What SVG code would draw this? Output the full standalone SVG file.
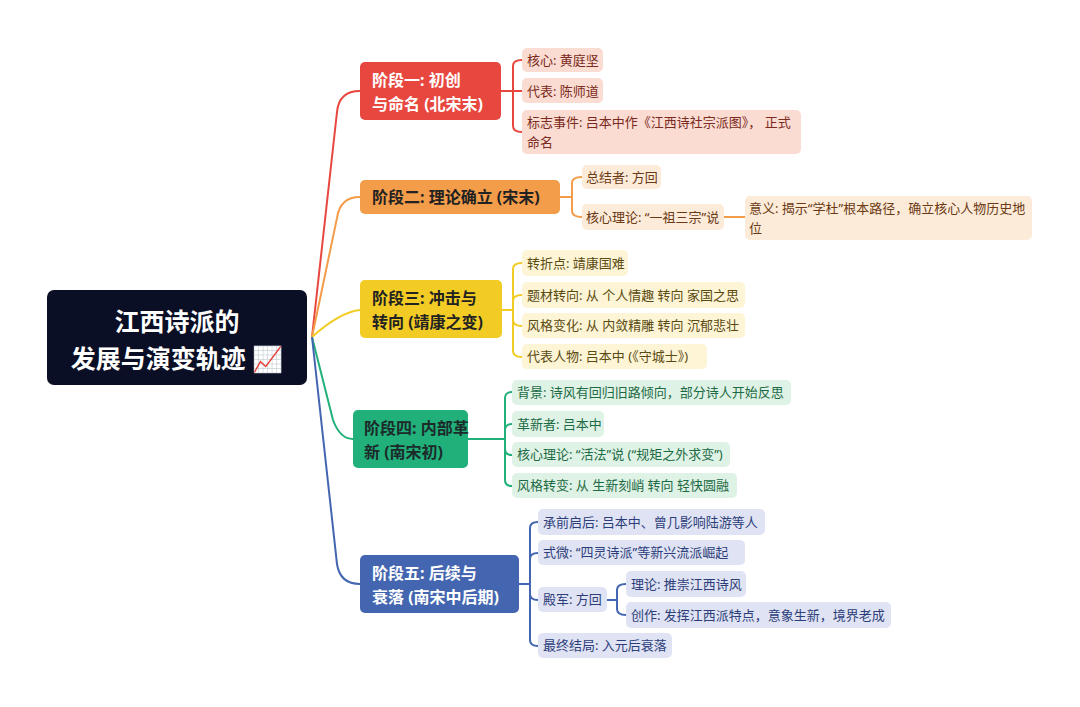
<svg xmlns="http://www.w3.org/2000/svg" width="1080" height="707" viewBox="0 0 1080 707">
<style>
text{font-family:"Noto Sans","Noto Sans CJK SC",sans-serif}
.br{font-size:16px;font-weight:bold}
.lf{font-size:13px}
.c{fill:none;stroke-width:2}
</style>
<rect width="1080" height="707" fill="#fff"/>
<g id="connectors">
<path class="c" stroke="#e8473f" d="M312,337 L337,112 Q339,91 360,91"/>
<path class="c" stroke="#f39c4a" d="M312,337 L337,218 Q340,197 360,197"/>
<path class="c" stroke="#f2cc24" d="M312,337 Q340,312 360,310"/>
<path class="c" stroke="#21b07a" d="M312,337 L333,420 Q340,439 353,439"/>
<path class="c" stroke="#4466b0" d="M312,337 L337,564 Q340,584 360,584"/>
<g stroke="#e8473f" class="c"><path d="M501,91 H513 V66 Q513,60 522,60"/><path d="M501,91 H522"/><path d="M501,91 H513 V126 Q513,132 522,132"/></g>
<g stroke="#f39c4a" class="c"><path d="M560,197 H572 V183 Q572,177 582,177"/><path d="M560,197 H572 V211 Q572,217 582,217"/><path d="M724,217 H745"/></g>
<g stroke="#f2cc24" class="c"><path d="M502,310 H513 V269 Q513,263 522,263"/><path d="M502,310 H513 V301 Q513,295 522,295"/><path d="M502,310 H513 V320 Q513,326 522,326"/><path d="M502,310 H513 V351 Q513,357 522,357"/></g>
<g stroke="#21b07a" class="c"><path d="M468,439 H505 V398 Q505,392 512,392"/><path d="M468,439 H505 V430 Q505,424 512,424"/><path d="M468,439 H505 V449 Q505,455 512,455"/><path d="M468,439 H505 V480 Q505,486 512,486"/></g>
<g stroke="#4466b0" class="c"><path d="M519,584 H530 V528 Q530,522 538,522"/><path d="M519,584 H530 V559 Q530,553 538,553"/><path d="M519,584 H530 V594 Q530,600 538,600"/><path d="M519,584 H530 V640 Q530,646 538,646"/><path d="M607,600 H617 V590 Q617,584 626,584"/><path d="M607,600 H617 V609 Q617,615 626,615"/></g>
</g>
<g id="root"><rect x="47" y="290" width="260" height="95" rx="7" fill="#0b0f25"/>
<text x="177" y="331" fill="#fff" font-size="25" font-weight="bold" text-anchor="middle">江西诗派的</text>
<text x="177" y="368" fill="#fff" font-size="25" font-weight="bold" text-anchor="middle">发展与演变轨迹 📈</text></g>
<g id="b1"><rect x="360" y="62" width="141" height="58" rx="5" fill="#e8473f"/><text class="br" fill="#fff" x="372" y="86">阶段一: 初创</text><text class="br" fill="#fff" x="372" y="110">与命名 (北宋末)</text></g>
<g id="b2"><rect x="360" y="180" width="200" height="34" rx="5" fill="#f39c4a"/><text class="br" fill="#222" x="372" y="203">阶段二: 理论确立 (宋末)</text></g>
<g id="b3"><rect x="360" y="280" width="142" height="58" rx="5" fill="#f2cc24"/><text class="br" fill="#222" x="372" y="304">阶段三: 冲击与</text><text class="br" fill="#222" x="372" y="328">转向 (靖康之变)</text></g>
<g id="b4"><rect x="353" y="410" width="115" height="58" rx="5" fill="#21b07a"/><text class="br" fill="#1c2a2a" x="364" y="434">阶段四: 内部革</text><text class="br" fill="#1c2a2a" x="364" y="458">新 (南宋初)</text></g>
<g id="b5"><rect x="360" y="555" width="159" height="58" rx="5" fill="#4466b0"/><text class="br" fill="#fff" x="372" y="579">阶段五: 后续与</text><text class="br" fill="#fff" x="372" y="603">衰落 (南宋中后期)</text></g>
<g fill="#fadcd3"><rect x="522" y="48" width="81" height="24" rx="5"/><rect x="522" y="78" width="81" height="25" rx="5"/><rect x="522" y="110" width="279" height="44" rx="5"/></g>
<g fill="#7a2a20" class="lf"><text x="527" y="65" class="lf">核心: 黄庭坚</text><text x="527" y="96" class="lf">代表: 陈师道</text><text x="527" y="127" class="lf">标志事件: 吕本中作《江西诗社宗派图》， 正式</text><text x="527" y="147" class="lf">命名</text></g>
<g fill="#fdebd9"><rect x="582" y="165" width="79" height="24" rx="5"/><rect x="582" y="204" width="142" height="26" rx="5"/><rect x="745" y="196" width="287" height="44" rx="5"/></g>
<g fill="#6b3a14"><text x="586" y="182" class="lf">总结者: 方回</text><text x="586" y="222" class="lf">核心理论: “一祖三宗”说</text><text x="749" y="213" class="lf">意义: 揭示“学杜”根本路径，确立核心人物历史地</text><text x="749" y="233" class="lf">位</text></g>
<g fill="#fdf5d6"><rect x="522" y="250" width="106" height="26" rx="5"/><rect x="522" y="282" width="223" height="26" rx="5"/><rect x="522" y="313" width="223" height="25" rx="5"/><rect x="522" y="344" width="185" height="25" rx="5"/></g>
<g fill="#5a4a10"><text x="527" y="268" class="lf">转折点: 靖康国难</text><text x="527" y="300" class="lf">题材转向: 从 个人情趣 转向 家国之思</text><text x="527" y="330" class="lf">风格变化: 从 内敛精雕 转向 沉郁悲壮</text><text x="527" y="361" class="lf">代表人物: 吕本中 (《守城士》)</text></g>
<g fill="#dff2e6"><rect x="512" y="380" width="279" height="25" rx="5"/><rect x="512" y="411" width="92" height="26" rx="5"/><rect x="512" y="442" width="218" height="25" rx="5"/><rect x="512" y="473" width="225" height="25" rx="5"/></g>
<g fill="#1d6b45"><text x="517" y="397" class="lf">背景: 诗风有回归旧路倾向，部分诗人开始反思</text><text x="517" y="429" class="lf">革新者: 吕本中</text><text x="517" y="459" class="lf">核心理论: “活法”说 (“规矩之外求变”)</text><text x="517" y="490" class="lf">风格转变: 从 生新刻峭 转向 轻快圆融</text></g>
<g fill="#e0e3f3"><rect x="538" y="509" width="227" height="26" rx="5"/><rect x="538" y="540" width="207" height="25" rx="5"/><rect x="538" y="587" width="69" height="25" rx="5"/><rect x="626" y="571" width="120" height="26" rx="5"/><rect x="626" y="602" width="265" height="26" rx="5"/><rect x="538" y="633" width="134" height="25" rx="5"/></g>
<g fill="#2c3e7a"><text x="543" y="527" class="lf">承前启后: 吕本中、曾几影响陆游等人</text><text x="543" y="557" class="lf">式微: “四灵诗派”等新兴流派崛起</text><text x="543" y="604" class="lf">殿军: 方回</text><text x="631" y="589" class="lf">理论: 推崇江西诗风</text><text x="631" y="620" class="lf">创作: 发挥江西派特点，意象生新，境界老成</text><text x="543" y="650" class="lf">最终结局: 入元后衰落</text></g>
</svg>
